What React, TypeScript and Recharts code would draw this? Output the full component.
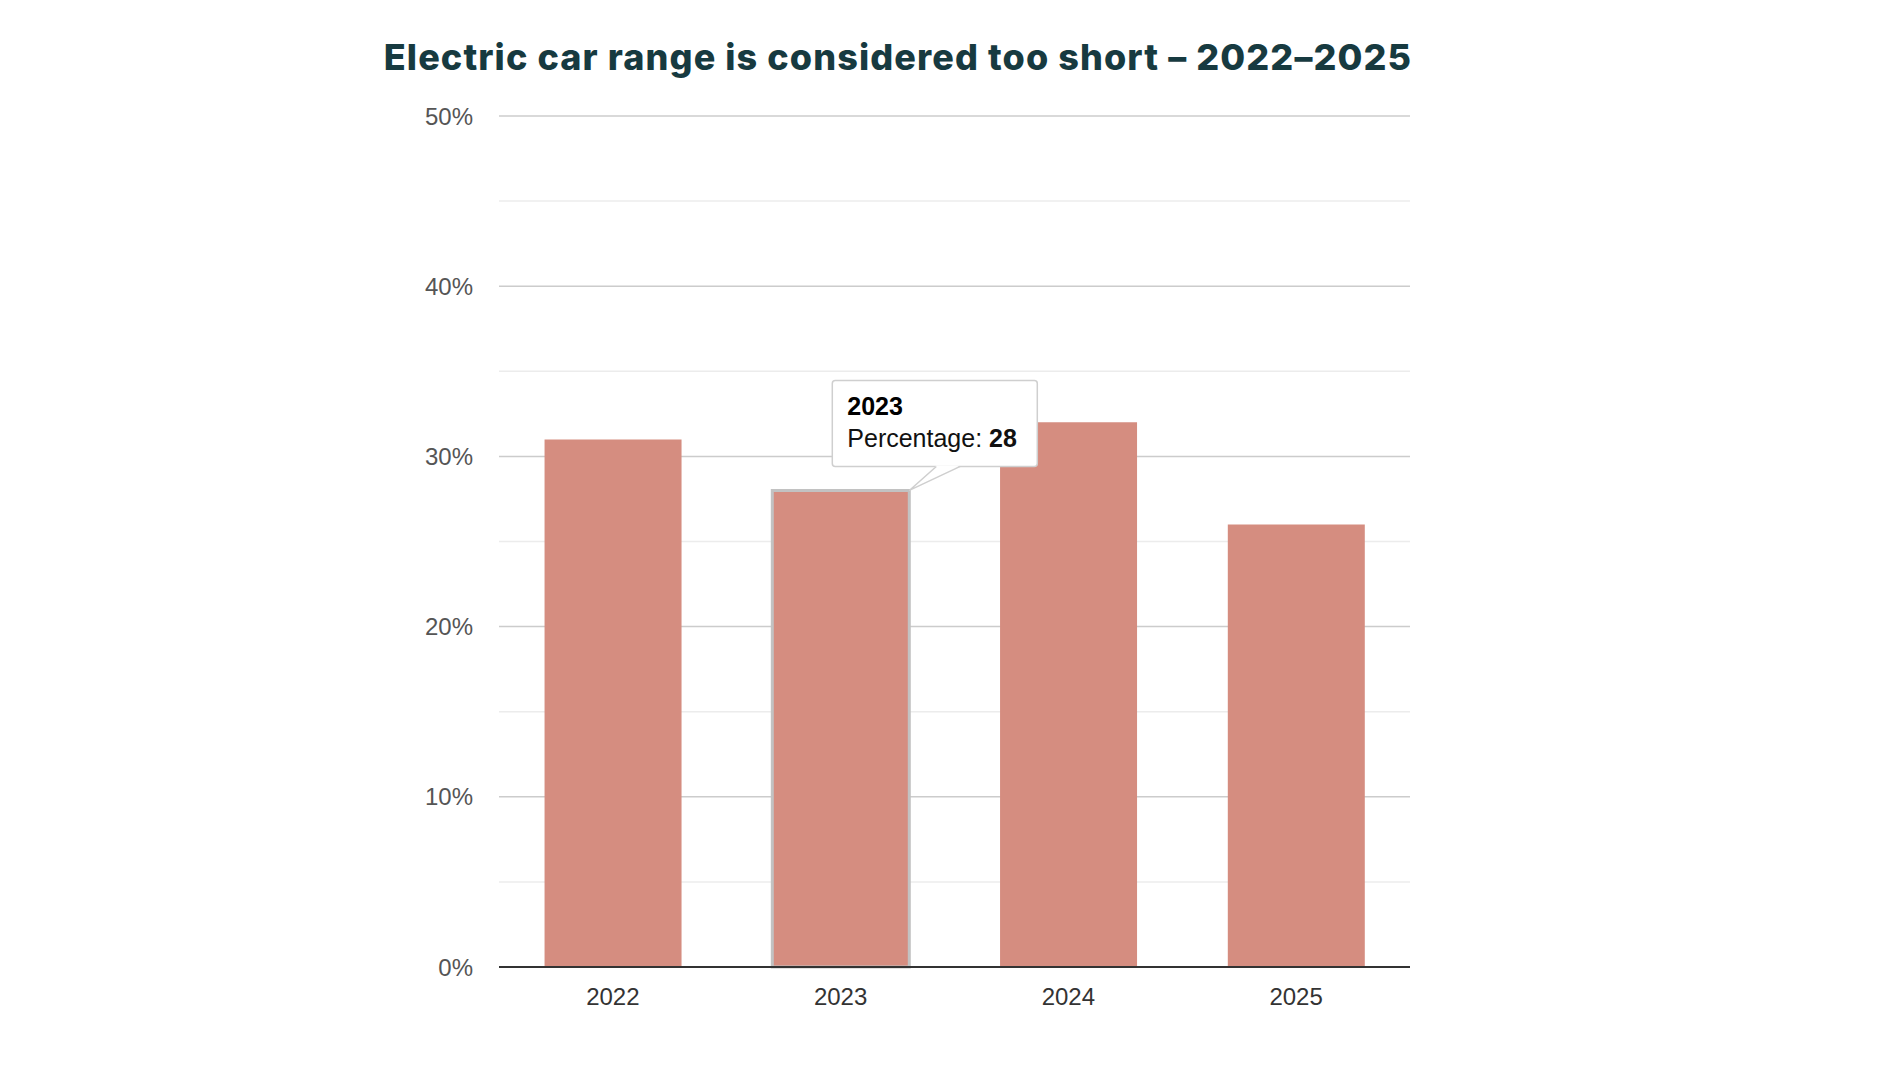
import { BarChart, Bar, XAxis, YAxis, CartesianGrid, Cell, LabelList } from 'recharts';

const years = ['2022', '2023', '2024', '2025'];
const percentages = [31, 28, 32, 26];
const majorTicks = [0, 10, 20, 30, 40, 50];
const minorTicks = [5, 15, 25, 35, 45];
const highlightIndex = 1;
const seriesName = 'Percentage';

const data = years.map((year, i) => ({ year, value: percentages[i] }));

const FONT = '"Liberation Sans", Arial, Helvetica, sans-serif';

// tooltip-like callout pinned to the highlighted bar
function Callout(props: any) {
  const { x, y, width, index, value } = props;
  if (index !== highlightIndex) return null;
  const left = x + 60;
  const top = y - 110;
  const w = 205;
  const h = 86;
  const tipX = x + width;
  return (
    <g>
      <rect x={left} y={top} width={w} height={h} rx={3} fill="#fff" stroke="#cfcfcf" strokeWidth={1.5} />
      <polygon points={`${left + 104},${top + h - 1} ${tipX},${y} ${left + 128},${top + h - 1}`} fill="#fff" />
      <polyline
        points={`${left + 104},${top + h} ${tipX},${y} ${left + 128},${top + h}`}
        fill="none"
        stroke="#cfcfcf"
        strokeWidth={1.5}
      />
      <text x={left + 15} y={top + 35} fontFamily={FONT} fontSize={25} fontWeight={700} fill="#000">
        {years[index]}
      </text>
      <text x={left + 15} y={top + 67} fontFamily={FONT} fontSize={25} fill="#111">
        {seriesName}: <tspan fontWeight={700}>{value}</tspan>
      </text>
    </g>
  );
}

export default function App() {
  return (
    <div style={{ position: 'absolute', left: 0, top: 0, width: 1900, height: 1069, background: '#fff' }}>
      <div
        style={{
          position: 'absolute',
          left: 0,
          width: 1796,
          top: 35,
          textAlign: 'center',
          fontFamily: 'Inter, sans-serif',
          fontWeight: 800,
          fontSize: 36,
          letterSpacing: 1.1,
          color: '#173a40',
        }}
      >
        Electric car range is considered too short – 2022–2025
      </div>
      <BarChart
        width={1900}
        height={1069}
        data={data}
        margin={{ top: 116, right: 490, bottom: 72, left: 399 }}
        barCategoryGap="20%"
      >
        <CartesianGrid vertical={false} horizontalValues={minorTicks} stroke="#ececec" strokeWidth={1.5} />
        <CartesianGrid vertical={false} horizontalValues={majorTicks.slice(1)} stroke="#cccccc" strokeWidth={1.5} />
        <XAxis
          dataKey="year"
          axisLine={{ stroke: '#333', strokeWidth: 2 }}
          tickLine={false}
          tickSize={0}
          tickMargin={21}
          tick={{ fontFamily: FONT, fontSize: 24, fill: '#333' }}
        />
        <YAxis
          width={100}
          domain={[0, 50]}
          ticks={majorTicks}
          axisLine={false}
          tickLine={false}
          tickSize={0}
          tickMargin={26}
          tickFormatter={(v: number) => `${v}%`}
          tick={{ fontFamily: FONT, fontSize: 24, fill: '#555' }}
        />
        <Bar dataKey="value" fill="#d58d80" isAnimationActive={false}>
          {data.map((d, i) => (
            <Cell
              key={d.year}
              stroke={i === highlightIndex ? '#c2c2c2' : 'none'}
              strokeWidth={i === highlightIndex ? 3 : 0}
            />
          ))}
          <LabelList dataKey="value" content={<Callout />} />
        </Bar>
      </BarChart>
    </div>
  );
}
